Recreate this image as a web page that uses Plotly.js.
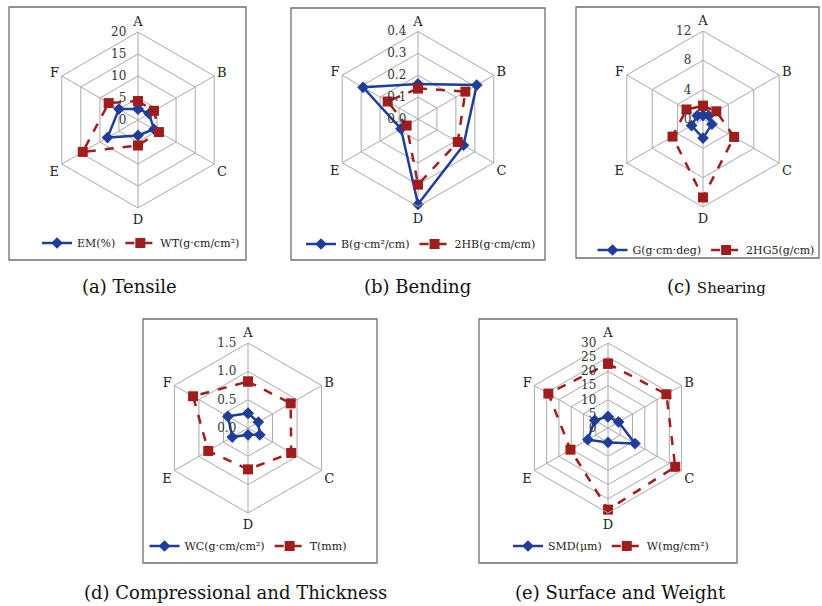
<!DOCTYPE html>
<html>
<head>
<meta charset="utf-8">
<script src="https://cdn.plot.ly/plotly-3.0.1.min.js"></script>
<style>html,body{margin:0;padding:0;background:#fff;}#chart{width:822px;height:606px;}</style>
</head>
<body>
<div id="chart"></div>
<script>
// ---- data ----
const categories = ['A', 'B', 'C', 'D', 'E', 'F'];

const emValues  = [2.5, 2.9, 4.2, 3.5, 8.0, 5.0];      // EM(%)
const wtValues  = [4.3, 4.2, 5.5, 5.8, 14.5, 7.7];     // WT(g·cm/cm²)
const bValues   = [0.16, 0.31, 0.24, 0.39, 0.09, 0.29]; // B(g·cm²/cm)
const hbValues  = [0.14, 0.25, 0.21, 0.30, 0.06, 0.16]; // 2HB(g·cm/cm)
const gValues   = [0.5, 0.9, 1.4, 2.6, 1.8, 0.9];      // G(g·cm·deg)
const hg5Values = [1.8, 2.1, 4.9, 10.7, 4.8, 2.6];     // 2HG5(g/cm)
const wcValues  = [0.26, 0.21, 0.24, 0.12, 0.32, 0.41]; // WC(g·cm/cm²)
const tValues   = [0.82, 0.87, 0.88, 0.73, 0.81, 1.12]; // T(mm)
const smdValues = [4.0, 4.3, 11.0, 5.1, 8.2, 5.4];     // SMD(μm)
const wValues   = [22.7, 23.8, 27.4, 28.8, 15.3, 24.3]; // W(mg/cm²)

const seriesNames = {
  em: 'EM(%)', wt: 'WT(g·cm/cm²)',
  b: 'B(g·cm²/cm)', hb: '2HB(g·cm/cm)',
  g: 'G(g·cm·deg)', hg5: '2HG5(g/cm)',
  wc: 'WC(g·cm/cm²)', t: 'T(mm)',
  smd: 'SMD(μm)', w: 'W(mg/cm²)'
};
const captions = ['(a) Tensile', '(b) Bending', '(c) <span style="font-size:15px">Shearing</span>',
                  '(d) Compressional and Thickness', '(e) Surface and Weight'];

// ---- styling / layout ----
const W = 822, H = 606;
const BLUE = '#1f3d99', RED = '#a01d1d';
const GRID = '#a9a9a9';
const SERIF = 'DejaVu Serif, Liberation Serif, serif';

function px(x) { return x / W; }
function py(y) { return 1 - y / H; }
function dom(cx, cy, r) {
  return { x: [px(cx - r), px(cx + r)], y: [py(cy + r), py(cy - r)] };
}
function closed(v) { return v.concat([v[0]]); }

function blueTrace(vals, name, sub, leg) {
  return {
    type: 'scatterpolar', r: closed(vals), theta: closed(categories),
    subplot: sub, legend: leg, name: name, mode: 'lines+markers',
    line: { color: BLUE, width: 2.5 },
    marker: { symbol: 'diamond', size: 9, color: BLUE },
    cliponaxis: false
  };
}
function redTrace(vals, name, sub, leg) {
  return {
    type: 'scatterpolar', r: closed(vals), theta: closed(categories),
    subplot: sub, legend: leg, name: name, mode: 'lines+markers',
    line: { color: RED, width: 2.5, dash: 'dash' },
    marker: { symbol: 'square', size: 10, color: RED },
    cliponaxis: false
  };
}

function polar(d, max, dtick, fmt) {
  return {
    domain: d,
    bgcolor: 'rgba(0,0,0,0)',
    gridshape: 'linear',
    angularaxis: {
      type: 'category', categoryarray: categories,
      direction: 'clockwise', rotation: 90,
      showline: true, linecolor: GRID, linewidth: 1,
      gridcolor: GRID, gridwidth: 1, ticks: '',
      tickfont: { family: SERIF, size: 13, color: '#222' }
    },
    radialaxis: {
      range: [0, max], tick0: 0, dtick: dtick, tickformat: fmt,
      angle: 90, side: 'counterclockwise', tickangle: 90,
      showline: false, gridcolor: GRID, gridwidth: 1,
      ticks: 'outside', ticklen: 7, tickcolor: 'rgba(0,0,0,0)',
      tickfont: { family: SERIF, size: 12, color: '#333' }
    }
  };
}

function legend(cx, cy) {
  return {
    orientation: 'h', x: px(cx), y: py(cy), xanchor: 'center', yanchor: 'middle',
    bgcolor: 'rgba(0,0,0,0)', font: { family: SERIF, size: 11, color: '#222' },
    itemwidth: 30, tracegroupgap: 0
  };
}

const data = [
  blueTrace(emValues, seriesNames.em, 'polar', 'legend'),
  redTrace(wtValues, seriesNames.wt, 'polar', 'legend'),
  blueTrace(bValues, seriesNames.b, 'polar2', 'legend2'),
  redTrace(hbValues, seriesNames.hb, 'polar2', 'legend2'),
  blueTrace(gValues, seriesNames.g, 'polar3', 'legend3'),
  redTrace(hg5Values, seriesNames.hg5, 'polar3', 'legend3'),
  blueTrace(wcValues, seriesNames.wc, 'polar4', 'legend4'),
  redTrace(tValues, seriesNames.t, 'polar4', 'legend4'),
  blueTrace(smdValues, seriesNames.smd, 'polar5', 'legend5'),
  redTrace(wValues, seriesNames.w, 'polar5', 'legend5')
];

const boxes = [
  [9, 7, 246, 260], [291, 8, 545, 260], [576, 7, 819, 258],
  [143, 319, 377, 563], [479, 319, 737, 563]
];
const shapes = boxes.map(b => ({
  type: 'rect', xref: 'paper', yref: 'paper',
  x0: px(b[0]), x1: px(b[2]), y0: py(b[3]), y1: py(b[1]),
  line: { color: '#6e6e6e', width: 1.3 }, fillcolor: 'rgba(0,0,0,0)'
}));

const capPos = [[129, 286], [417, 286], [716, 286], [235, 592], [620, 592]];
const annotations = captions.map((t, i) => ({
  text: t, xref: 'paper', yref: 'paper', x: px(capPos[i][0]), y: py(capPos[i][1]),
  xanchor: 'center', yanchor: 'middle', showarrow: false,
  font: { family: SERIF, size: 18, color: '#111' }
}));

const layout = {
  width: W, height: H,
  margin: { l: 0, r: 0, t: 0, b: 0 },
  paper_bgcolor: '#fff', plot_bgcolor: '#fff',
  showlegend: true,
  polar: polar(dom(138, 120, 88), 20, 5, 'd'),
  polar2: polar(dom(418, 119, 87.5), 0.4, 0.1, '.1f'),
  polar3: polar(dom(703, 119, 88), 12, 4, 'd'),
  polar4: polar(dom(248, 428, 85), 1.5, 0.5, '.1f'),
  polar5: polar(dom(608, 428, 85), 30, 5, 'd'),
  legend: legend(141, 243),
  legend2: legend(421, 244),
  legend3: legend(706, 250),
  legend4: legend(248, 546),
  legend5: legend(611, 546),
  shapes: shapes,
  annotations: annotations
};

Plotly.newPlot('chart', data, layout, { staticPlot: true, displayModeBar: false });
</script>
</body>
</html>
